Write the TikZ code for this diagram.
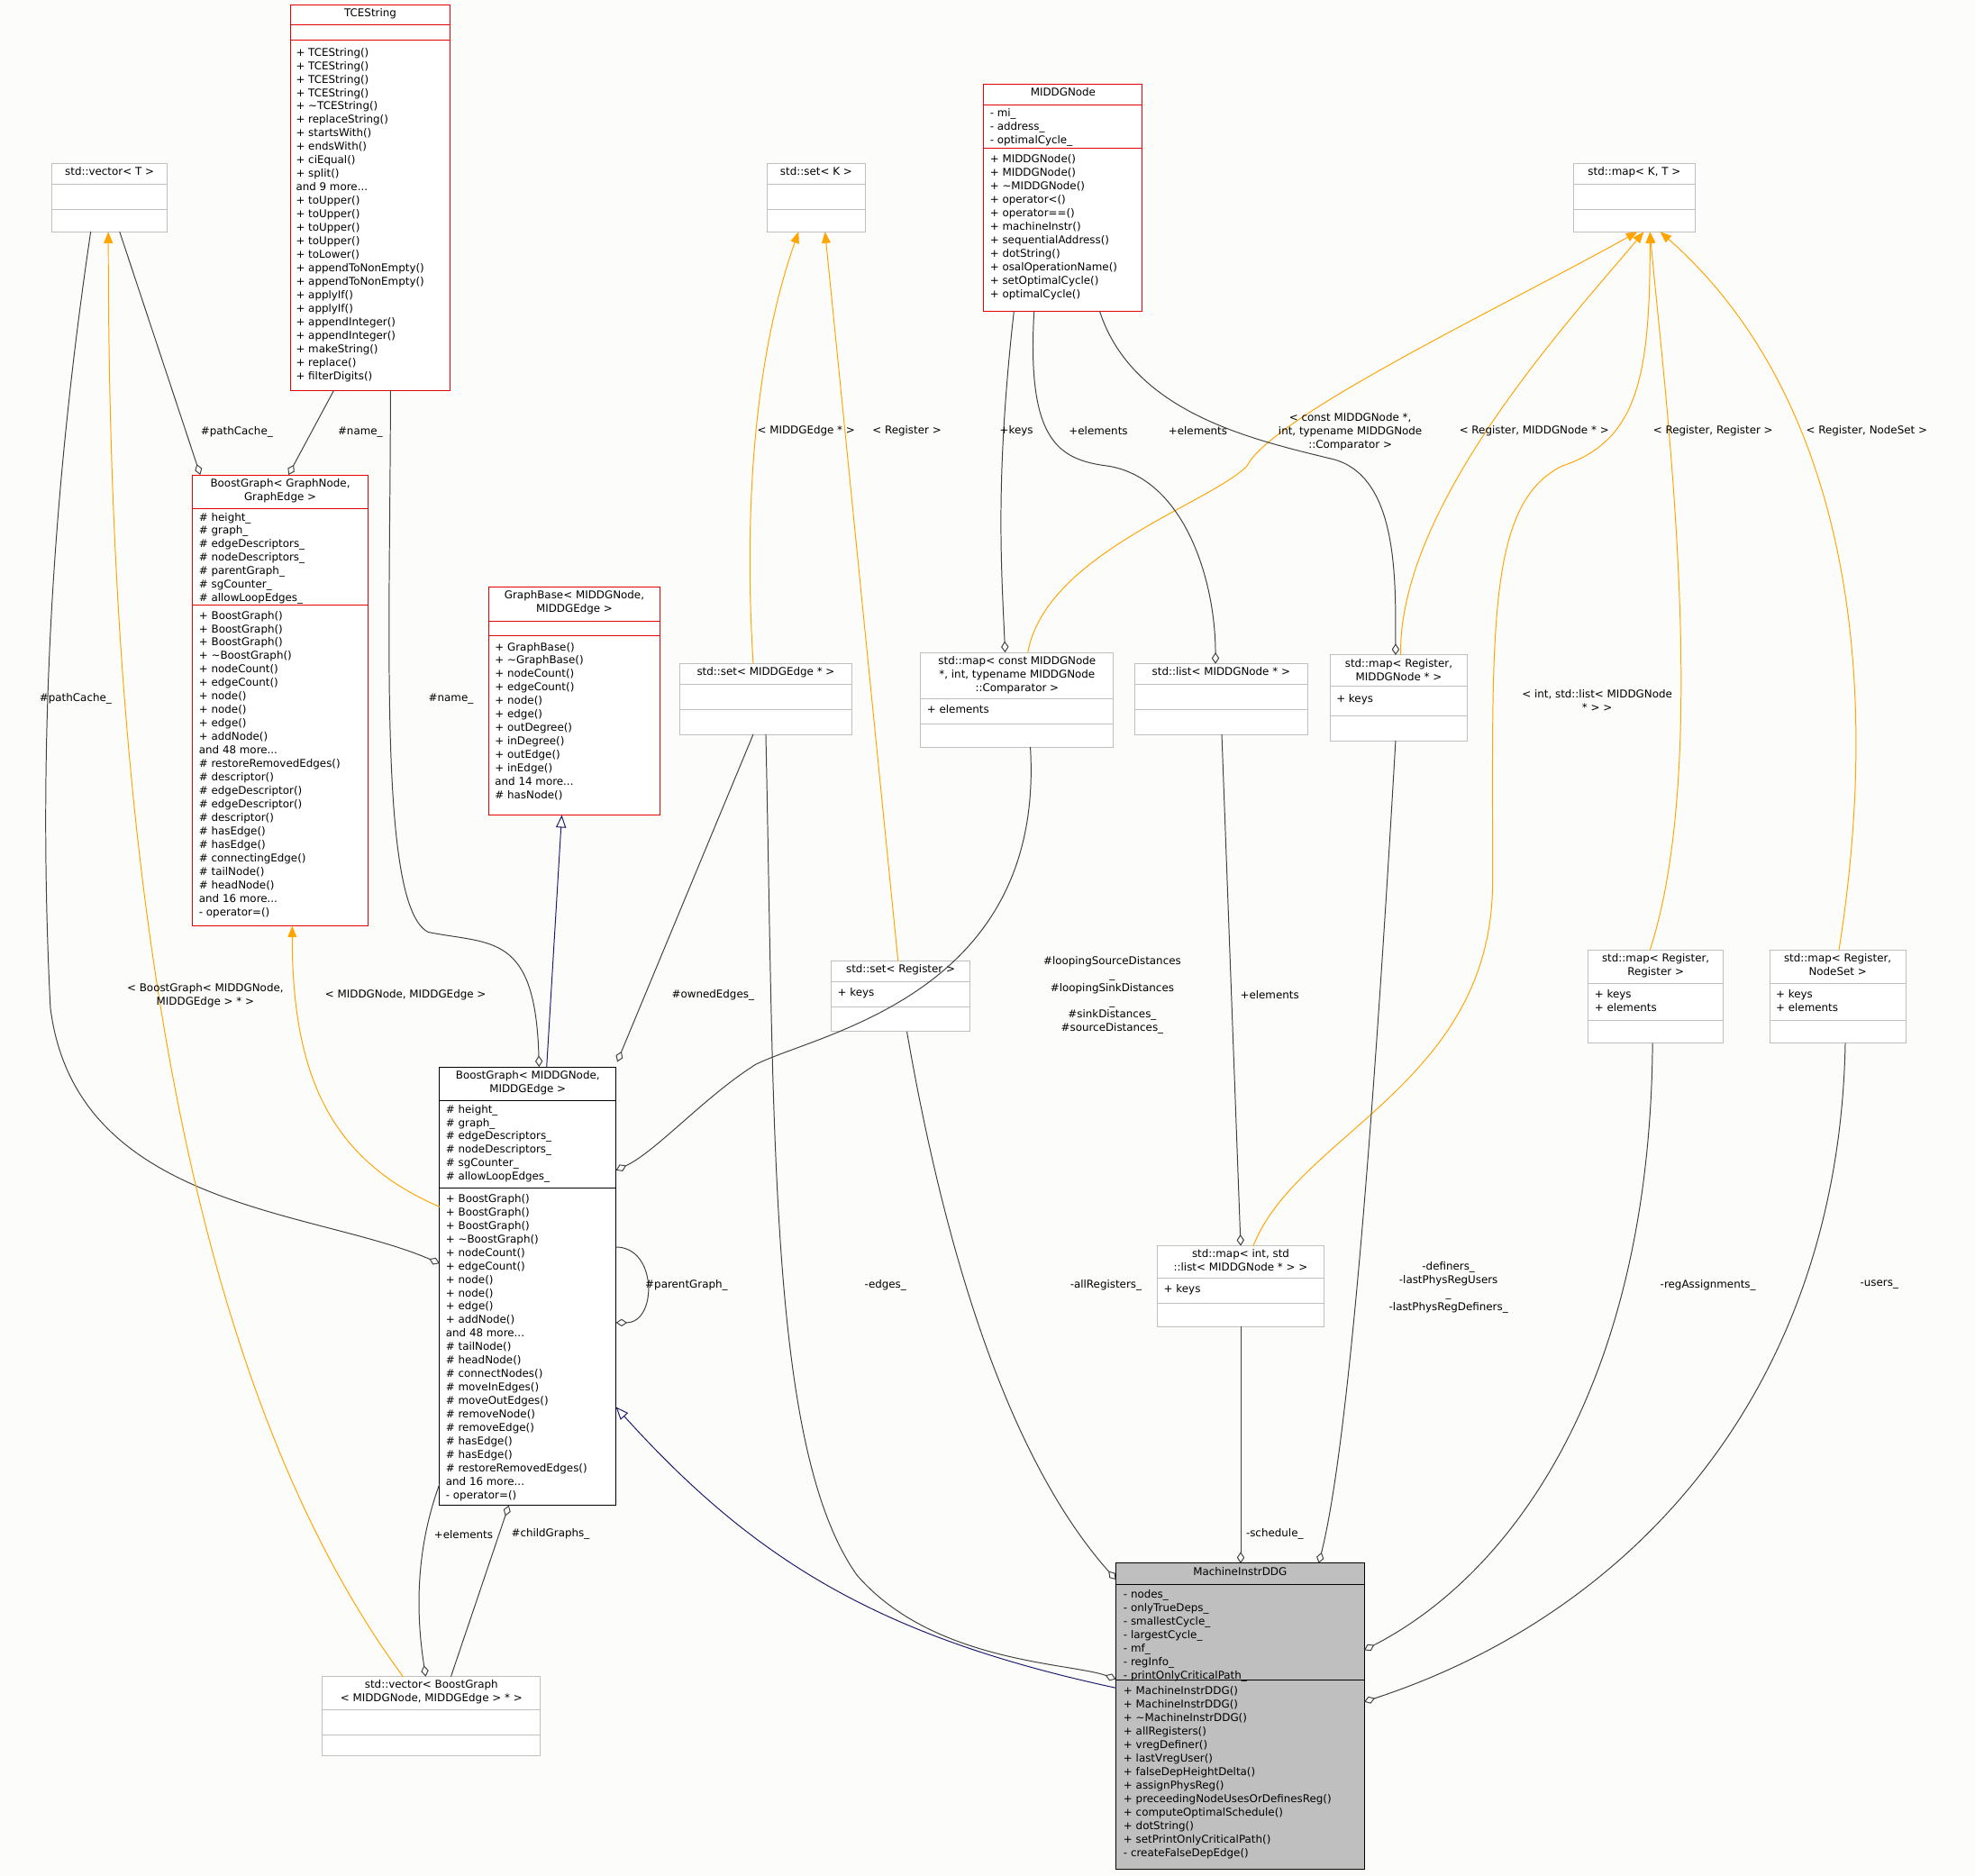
\documentclass[tikz,border=0pt]{standalone}
\usepackage{fontspec}
\setmainfont{DejaVu Sans}
\usetikzlibrary{arrows.meta,calc}
\definecolor{cRed}{RGB}{230,0,0}
\definecolor{cGray}{RGB}{191,191,191}
\definecolor{cEdge}{RGB}{64,64,64}
\definecolor{cOr}{RGB}{255,165,0}
\definecolor{cNavy}{RGB}{25,25,112}
\definecolor{cBg}{RGB}{252,252,251}
\definecolor{cMain}{RGB}{191,191,191}
\def\boxfill{white}
\tikzset{
  every node/.style={font=\fontsize{8.5}{10.7}\selectfont, inner sep=0pt, outer sep=0pt},
  ttl/.style={anchor=north, align=center},
  mem/.style={anchor=north west, align=left},
  lbl/.style={align=center, fill=none},
  dep/.style={draw=cEdge, line width=0.7pt, -{Diamond[open,length=9pt,width=6pt,line width=0.7pt]}},
  tmpl/.style={draw=cOr, line width=0.7pt, -{Triangle[length=9pt,width=7pt]}, color=cOr},
  inh/.style={draw=cNavy, line width=0.7pt, -{Triangle[open,length=10pt,width=8pt,line width=0.7pt]}},
}
\newcommand\cls[9]{%
  \node[draw=#8, fill=\boxfill, line width=0.7pt, anchor=north west, minimum width={#4-#2}, minimum height={#5-#3}] (#1) at (#2,#3) {};
  \draw[#8, line width=0.7pt] (#2,#6) -- (#4,#6) (#2,#7) -- (#4,#7);
  \node[ttl] (#1T) at ({(#2+#4)/2},{#3+3}) {#9};
}
\begin{document}
\begin{tikzpicture}[x=1pt,y=-1pt]
\fill[cBg] (0,0) rectangle (1568,1489);
\useasboundingbox (0,0) rectangle (1568,1489);

% ---------- classes ----------
\cls{tce}{231}{4}{357}{310}{20}{32}{cRed}{TCEString}
\node[mem] (tceM) at (235,38) {+ TCEString()\\+ TCEString()\\+ TCEString()\\+ TCEString()\\+ \textasciitilde TCEString()\\+ replaceString()\\+ startsWith()\\+ endsWith()\\+ ciEqual()\\+ split()\\and 9 more...\\+ toUpper()\\+ toUpper()\\+ toUpper()\\+ toUpper()\\+ toLower()\\+ appendToNonEmpty()\\+ appendToNonEmpty()\\+ applyIf()\\+ applyIf()\\+ appendInteger()\\+ appendInteger()\\+ makeString()\\+ replace()\\+ filterDigits()};

\cls{vecT}{41}{130}{133}{184}{146}{166}{cGray}{std::vector< T >}
\cls{setK}{609}{130}{687}{184}{146}{166}{cGray}{std::set< K >}
\cls{mapKT}{1249}{130}{1346}{184}{146}{166}{cGray}{std::map< K, T >}

\cls{mnode}{781}{67}{907}{247}{83}{118}{cRed}{MIDDGNode}
\node[mem] (mnodeA) at (786,86) {- mi\_\\- address\_\\- optimalCycle\_};
\node[mem] (mnodeM) at (786,123) {+ MIDDGNode()\\+ MIDDGNode()\\+ \textasciitilde MIDDGNode()\\+ operator<()\\+ operator==()\\+ machineInstr()\\+ sequentialAddress()\\+ dotString()\\+ osalOperationName()\\+ setOptimalCycle()\\+ optimalCycle()};

\cls{bgA}{153}{377}{292}{735}{404}{480}{cRed}{BoostGraph< GraphNode,\\GraphEdge >}
\node[mem] (bgAA) at (158,407) {\# height\_\\\# graph\_\\\# edgeDescriptors\_\\\# nodeDescriptors\_\\\# parentGraph\_\\\# sgCounter\_\\\# allowLoopEdges\_};
\node[mem] (bgAM) at (158,485) {+ BoostGraph()\\+ BoostGraph()\\+ BoostGraph()\\+ \textasciitilde BoostGraph()\\+ nodeCount()\\+ edgeCount()\\+ node()\\+ node()\\+ edge()\\+ addNode()\\and 48 more...\\\# restoreRemovedEdges()\\\# descriptor()\\\# edgeDescriptor()\\\# edgeDescriptor()\\\# descriptor()\\\# hasEdge()\\\# hasEdge()\\\# connectingEdge()\\\# tailNode()\\\# headNode()\\and 16 more...\\- operator=()};

\cls{gb}{388}{466}{524}{647}{493}{505}{cRed}{GraphBase< MIDDGNode,\\MIDDGEdge >}
\node[mem] (gbM) at (393,510) {+ GraphBase()\\+ \textasciitilde GraphBase()\\+ nodeCount()\\+ edgeCount()\\+ node()\\+ edge()\\+ outDegree()\\+ inDegree()\\+ outEdge()\\+ inEdge()\\and 14 more...\\\# hasNode()};

\cls{setE}{540}{527}{676}{583}{543}{563}{cGray}{std::set< MIDDGEdge * >}
\cls{mapC}{731}{518}{884}{593}{555}{575}{cGray}{std::map< const MIDDGNode\\ *, int, typename MIDDGNode\\::Comparator >}
\node[mem] (mapCA) at (736,560) {+ elements};
\cls{lst}{901}{527}{1038}{583}{543}{563}{cGray}{std::list< MIDDGNode * >}
\cls{mapRN}{1056}{520}{1165}{588}{545}{568}{cGray}{std::map< Register,\\MIDDGNode * >}
\node[mem] (mapRNA) at (1061,551) {+ keys};
\cls{setR}{660}{763}{770}{819}{779}{799}{cGray}{std::set< Register >}
\node[mem] (setRA) at (665,784) {+ keys};
\cls{mapRR}{1261}{754}{1368}{828}{781}{810}{cGray}{std::map< Register,\\Register >}
\node[mem] (mapRRA) at (1266,786) {+ keys\\+ elements};
\cls{mapRS}{1405}{754}{1513}{828}{781}{810}{cGray}{std::map< Register,\\NodeSet >}
\node[mem] (mapRSA) at (1410,786) {+ keys\\+ elements};

\cls{bgB}{349}{847}{489}{1195}{874}{943}{black}{BoostGraph< MIDDGNode,\\MIDDGEdge >}
\node[mem] (bgBA) at (354,877) {\# height\_\\\# graph\_\\\# edgeDescriptors\_\\\# nodeDescriptors\_\\\# sgCounter\_\\\# allowLoopEdges\_};
\node[mem] (bgBM) at (354,948) {+ BoostGraph()\\+ BoostGraph()\\+ BoostGraph()\\+ \textasciitilde BoostGraph()\\+ nodeCount()\\+ edgeCount()\\+ node()\\+ node()\\+ edge()\\+ addNode()\\and 48 more...\\\# tailNode()\\\# headNode()\\\# connectNodes()\\\# moveInEdges()\\\# moveOutEdges()\\\# removeNode()\\\# removeEdge()\\\# hasEdge()\\\# hasEdge()\\\# restoreRemovedEdges()\\and 16 more...\\- operator=()};

\cls{mapIL}{919}{989}{1051}{1053}{1015}{1035}{cGray}{std::map< int, std\\::list< MIDDGNode * > >}
\node[mem] (mapILA) at (924,1020) {+ keys};
\cls{vecB}{256}{1331}{429}{1394}{1357}{1377}{cGray}{std::vector< BoostGraph\\< MIDDGNode, MIDDGEdge > * >}

\def\boxfill{cMain}
\cls{mid}{886}{1241}{1083}{1484}{1258}{1334}{black}{MachineInstrDDG}
\node[mem] (midA) at (892,1262) {- nodes\_\\- onlyTrueDeps\_\\- smallestCycle\_\\- largestCycle\_\\- mf\_\\- regInfo\_\\- printOnlyCriticalPath\_};
\node[mem] (midM) at (892,1339) {+ MachineInstrDDG()\\+ MachineInstrDDG()\\+ \textasciitilde MachineInstrDDG()\\+ allRegisters()\\+ vregDefiner()\\+ lastVregUser()\\+ falseDepHeightDelta()\\+ assignPhysReg()\\+ preceedingNodeUsesOrDefinesReg()\\+ computeOptimalSchedule()\\+ dotString()\\+ setPrintOnlyCriticalPath()\\- createFalseDepEdge()};

% ---------- edges ----------
\draw[dep] (95,0 |- vecT.south) -- (159,0 |- bgA.north);
\draw[dep] (265,0 |- tce.south) -- (229,0 |- bgA.north);
\draw[dep] (72,0 |- vecT.south) .. controls (40,400) and (30,600) .. (40,800) .. controls (60,960) and (250,960) .. (bgB.west |- 0,1003);
\draw[dep] (310,0 |- tce.south) .. controls (310,500) and (300,720) .. (340,740) .. controls (390,750) and (425,740) .. (428,0 |- bgB.north);
\draw[inh] (434,0 |- bgB.north) -- (446,0 |- gb.south);
\draw[tmpl] (bgB.west |- 0,958) .. controls (260,920) and (232,850) .. (232,0 |- bgA.south);
\draw[tmpl] (320,0 |- vecB.north) .. controls (150,1100) and (86,700) .. (86,0 |- vecT.south);
\draw[dep] (598,0 |- setE.south) -- (490,843);
\draw[tmpl] (598,0 |- setE.north) .. controls (590,400) and (600,280) .. (634,0 |- setK.south);
\draw[tmpl] (713,0 |- setR.north) -- (655,0 |- setK.south);
\draw[dep] (818,0 |- mapC.south) .. controls (830,790) and (650,820) .. (600,845) .. controls (560,870) and (520,915) .. (bgB.east |- 0,929);
\draw[tmpl] (816,0 |- mapC.north) .. controls (830,440) and (960,400) .. (990,370) .. controls (1010,330) and (1200,240) .. (1300,0 |- mapKT.south);
\draw[dep] (805,0 |- mnode.south) .. controls (790,380) and (795,450) .. (798,0 |- mapC.north);
\draw[dep] (821,0 |- mnode.south) .. controls (815,350) and (840,365) .. (880,370) .. controls (940,380) and (965,460) .. (965,0 |- lst.north);
\draw[dep] (873,0 |- mnode.south) .. controls (900,330) and (1000,350) .. (1060,365) .. controls (1110,380) and (1108,460) .. (1108,0 |- mapRN.north);
\draw[tmpl] (1112,0 |- mapRN.north) .. controls (1110,400) and (1250,250) .. (1305,0 |- mapKT.south);
\draw[tmpl] (995,0 |- mapIL.north) .. controls (1030,900) and (1185,860) .. (1185,700) .. controls (1185,500) and (1180,400) .. (1240,370) .. controls (1300,350) and (1310,300) .. (1310,0 |- mapKT.south);
\draw[tmpl] (1310,0 |- mapRR.north) .. controls (1360,600) and (1320,300) .. (1310,0 |- mapKT.south);
\draw[tmpl] (1460,0 |- mapRS.north) .. controls (1500,500) and (1450,300) .. (1318,0 |- mapKT.south);
\draw[dep] (970,0 |- lst.south) -- (985,0 |- mapIL.north);
\draw[dep] (bgB.east |- 0,990) .. controls (522,990) and (522,1050) .. (bgB.east |- 0,1050);
\draw[dep] (bgB.west |- 0,1178) .. controls (330,1230) and (330,1280) .. (338,0 |- vecB.north);
\draw[dep] (358,0 |- vecB.north) -- (404,0 |- bgB.south);
\draw[inh] (mid.west |- 0,1340) .. controls (700,1300) and (600,1240) .. (bgB.east |- 0,1117);
\draw[dep] (608,0 |- setE.south) .. controls (615,900) and (610,1150) .. (680,1250) .. controls (740,1320) and (850,1320) .. (mid.west |- 0,1333);
\draw[dep] (720,0 |- setR.south) .. controls (760,1050) and (820,1180) .. (mid.west |- 0,1254);
\draw[dep] (985,0 |- mapIL.south) -- (985,0 |- mid.north);
\draw[dep] (1108,0 |- mapRN.south) .. controls (1090,900) and (1070,1150) .. (1047,0 |- mid.north);
\draw[dep] (1312,0 |- mapRR.south) .. controls (1310,1100) and (1200,1250) .. (mid.east |- 0,1310);
\draw[dep] (1465,0 |- mapRS.south) .. controls (1460,1100) and (1300,1280) .. (mid.east |- 0,1351);

% ---------- labels ----------
\node[lbl] (l1) at (188,343) {\#pathCache\_};
\node[lbl] (l2) at (286,343) {\#name\_};
\node[lbl] (l3) at (60,555) {\#pathCache\_};
\node[lbl] (l4) at (358,555) {\#name\_};
\node[lbl] (l5) at (322,790) {< MIDDGNode, MIDDGEdge >};
\node[lbl] (l6) at (163,790) {< BoostGraph< MIDDGNode,\\MIDDGEdge > * >};
\node[lbl] (l7) at (566,790) {\#ownedEdges\_};
\node[lbl] (l8) at (640,342) {< MIDDGEdge * >};
\node[lbl] (l9) at (720,342) {< Register >};
\node[lbl] (l10) at (883,790) {\#loopingSourceDistances\\\_\\\#loopingSinkDistances\\\_\\\#sinkDistances\_\\\#sourceDistances\_};
\node[lbl] (l11) at (1072,343) {< const MIDDGNode *,\\int, typename MIDDGNode\\::Comparator >};
\node[lbl] (l12) at (807,342) {+keys};
\node[lbl] (l13) at (872,342) {+elements};
\node[lbl] (l14) at (951,342) {+elements};
\node[lbl] (l15) at (1218,342) {< Register, MIDDGNode * >};
\node[lbl] (l16) at (1268,556) {< int, std::list< MIDDGNode\\* > >};
\node[lbl] (l17) at (1360,342) {< Register, Register >};
\node[lbl] (l18) at (1482,342) {< Register, NodeSet >};
\node[lbl] (l19) at (1008,790) {+elements};
\node[lbl] (l20) at (545,1020) {\#parentGraph\_};
\node[lbl] (l21) at (368,1218) {+elements};
\node[lbl] (l22) at (437,1218) {\#childGraphs\_};
\node[lbl] (l23) at (703,1020) {-edges\_};
\node[lbl] (l24) at (878,1020) {-allRegisters\_};
\node[lbl] (l25) at (1012,1218) {-schedule\_};
\node[lbl] (l26) at (1150,1022) {-definers\_\\-lastPhysRegUsers\\\_\\-lastPhysRegDefiners\_};
\node[lbl] (l27) at (1356,1020) {-regAssignments\_};
\node[lbl] (l28) at (1492,1020) {-users\_};
\end{tikzpicture}
\end{document}
